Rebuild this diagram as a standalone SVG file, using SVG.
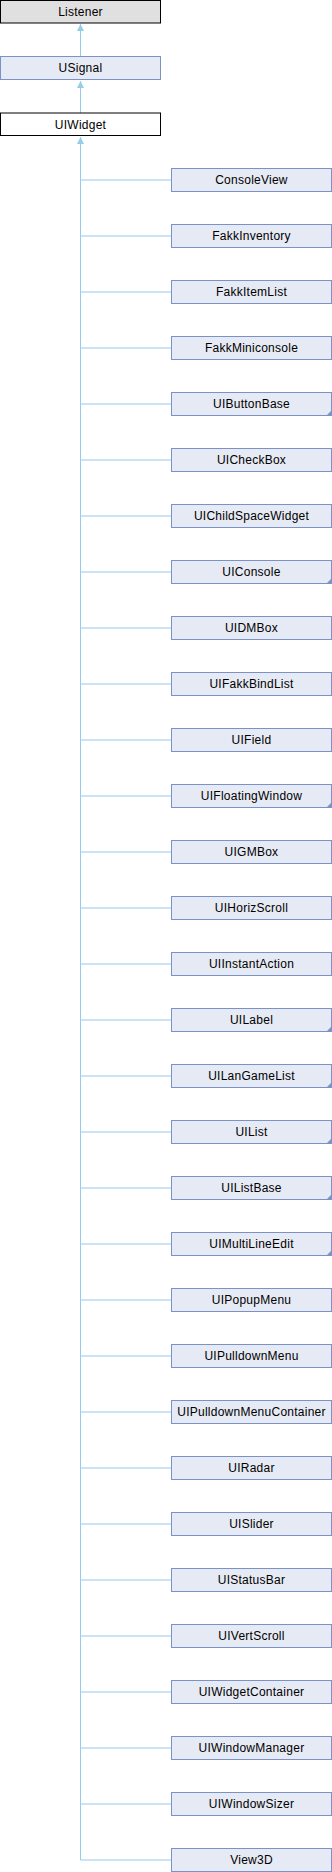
<svg xmlns="http://www.w3.org/2000/svg" width="332" height="1872" viewBox="0 0 332 1872">
<style>
.n rect{fill:#e6eaf4;stroke:#7a92c8;stroke-width:1}
.n text{font-family:"Liberation Sans",Arial,sans-serif;font-size:12px;fill:#000;text-anchor:middle;letter-spacing:0.25px}
.g rect{fill:#e0e0e0;stroke:#000}
.w rect{fill:#fff;stroke:#000}
.c{stroke:#94cdea;stroke-width:1;fill:none}
.t{fill:#7a92c8}
.ah{fill:#94cdea}
</style>
<rect width="332" height="1872" fill="#fff"/>
<g id="connectors">
<path class="c" d="M80.5 24V56M80.5 81V113M80.5 137V1860"/>
<path class="c" d="M80.5 180H171.5M80.5 236H171.5M80.5 292H171.5M80.5 348H171.5M80.5 404H171.5M80.5 460H171.5M80.5 516H171.5M80.5 572H171.5M80.5 628H171.5M80.5 684H171.5M80.5 740H171.5M80.5 796H171.5M80.5 852H171.5M80.5 908H171.5M80.5 964H171.5M80.5 1020H171.5M80.5 1076H171.5M80.5 1132H171.5M80.5 1188H171.5M80.5 1244H171.5M80.5 1300H171.5M80.5 1356H171.5M80.5 1412H171.5M80.5 1468H171.5M80.5 1524H171.5M80.5 1580H171.5M80.5 1636H171.5M80.5 1692H171.5M80.5 1748H171.5M80.5 1804H171.5M80.5 1860H171.5"/>
<polygon class="ah" points="80.5,24 77,31 84,31"/>
<polygon class="ah" points="80.5,81 77,88 84,88"/>
<polygon class="ah" points="80.5,137 77,144 84,144"/>
</g>
<g id="Listener" class="n g"><rect x="0.5" y="0.5" width="160" height="22.5"/><text x="80.5" y="15.5">Listener</text></g>
<g id="USignal" class="n"><rect x="0.5" y="56.5" width="160" height="23"/><text x="80.5" y="72">USignal</text></g>
<g id="UIWidget" class="n w"><rect x="0.5" y="113" width="160" height="22.5"/><text x="80.5" y="128.5">UIWidget</text></g>
<g id="ConsoleView" class="n"><rect x="171.5" y="168.5" width="160" height="23"/><text x="251.5" y="184">ConsoleView</text></g>
<g id="FakkInventory" class="n"><rect x="171.5" y="224.5" width="160" height="23"/><text x="251.5" y="240">FakkInventory</text></g>
<g id="FakkItemList" class="n"><rect x="171.5" y="280.5" width="160" height="23"/><text x="251.5" y="296">FakkItemList</text></g>
<g id="FakkMiniconsole" class="n"><rect x="171.5" y="336.5" width="160" height="23"/><text x="251.5" y="352">FakkMiniconsole</text></g>
<g id="UIButtonBase" class="n"><rect x="171.5" y="392.5" width="160" height="23"/><text x="251.5" y="408">UIButtonBase</text><polygon class="t" points="332,410 332,416 326,416"/></g>
<g id="UICheckBox" class="n"><rect x="171.5" y="448.5" width="160" height="23"/><text x="251.5" y="464">UICheckBox</text></g>
<g id="UIChildSpaceWidget" class="n"><rect x="171.5" y="504.5" width="160" height="23"/><text x="251.5" y="520">UIChildSpaceWidget</text></g>
<g id="UIConsole" class="n"><rect x="171.5" y="560.5" width="160" height="23"/><text x="251.5" y="576">UIConsole</text><polygon class="t" points="332,578 332,584 326,584"/></g>
<g id="UIDMBox" class="n"><rect x="171.5" y="616.5" width="160" height="23"/><text x="251.5" y="632">UIDMBox</text></g>
<g id="UIFakkBindList" class="n"><rect x="171.5" y="672.5" width="160" height="23"/><text x="251.5" y="688">UIFakkBindList</text></g>
<g id="UIField" class="n"><rect x="171.5" y="728.5" width="160" height="23"/><text x="251.5" y="744">UIField</text></g>
<g id="UIFloatingWindow" class="n"><rect x="171.5" y="784.5" width="160" height="23"/><text x="251.5" y="800">UIFloatingWindow</text><polygon class="t" points="332,802 332,808 326,808"/></g>
<g id="UIGMBox" class="n"><rect x="171.5" y="840.5" width="160" height="23"/><text x="251.5" y="856">UIGMBox</text></g>
<g id="UIHorizScroll" class="n"><rect x="171.5" y="896.5" width="160" height="23"/><text x="251.5" y="912">UIHorizScroll</text></g>
<g id="UIInstantAction" class="n"><rect x="171.5" y="952.5" width="160" height="23"/><text x="251.5" y="968">UIInstantAction</text></g>
<g id="UILabel" class="n"><rect x="171.5" y="1008.5" width="160" height="23"/><text x="251.5" y="1024">UILabel</text><polygon class="t" points="332,1026 332,1032 326,1032"/></g>
<g id="UILanGameList" class="n"><rect x="171.5" y="1064.5" width="160" height="23"/><text x="251.5" y="1080">UILanGameList</text><polygon class="t" points="332,1082 332,1088 326,1088"/></g>
<g id="UIList" class="n"><rect x="171.5" y="1120.5" width="160" height="23"/><text x="251.5" y="1136">UIList</text><polygon class="t" points="332,1138 332,1144 326,1144"/></g>
<g id="UIListBase" class="n"><rect x="171.5" y="1176.5" width="160" height="23"/><text x="251.5" y="1192">UIListBase</text><polygon class="t" points="332,1194 332,1200 326,1200"/></g>
<g id="UIMultiLineEdit" class="n"><rect x="171.5" y="1232.5" width="160" height="23"/><text x="251.5" y="1248">UIMultiLineEdit</text><polygon class="t" points="332,1250 332,1256 326,1256"/></g>
<g id="UIPopupMenu" class="n"><rect x="171.5" y="1288.5" width="160" height="23"/><text x="251.5" y="1304">UIPopupMenu</text></g>
<g id="UIPulldownMenu" class="n"><rect x="171.5" y="1344.5" width="160" height="23"/><text x="251.5" y="1360">UIPulldownMenu</text></g>
<g id="UIPulldownMenuContainer" class="n"><rect x="171.5" y="1400.5" width="160" height="23"/><text x="251.5" y="1416">UIPulldownMenuContainer</text></g>
<g id="UIRadar" class="n"><rect x="171.5" y="1456.5" width="160" height="23"/><text x="251.5" y="1472">UIRadar</text></g>
<g id="UISlider" class="n"><rect x="171.5" y="1512.5" width="160" height="23"/><text x="251.5" y="1528">UISlider</text></g>
<g id="UIStatusBar" class="n"><rect x="171.5" y="1568.5" width="160" height="23"/><text x="251.5" y="1584">UIStatusBar</text></g>
<g id="UIVertScroll" class="n"><rect x="171.5" y="1624.5" width="160" height="23"/><text x="251.5" y="1640">UIVertScroll</text></g>
<g id="UIWidgetContainer" class="n"><rect x="171.5" y="1680.5" width="160" height="23"/><text x="251.5" y="1696">UIWidgetContainer</text></g>
<g id="UIWindowManager" class="n"><rect x="171.5" y="1736.5" width="160" height="23"/><text x="251.5" y="1752">UIWindowManager</text></g>
<g id="UIWindowSizer" class="n"><rect x="171.5" y="1792.5" width="160" height="23"/><text x="251.5" y="1808">UIWindowSizer</text></g>
<g id="View3D" class="n"><rect x="171.5" y="1848.5" width="160" height="23"/><text x="251.5" y="1864">View3D</text></g>
</svg>
